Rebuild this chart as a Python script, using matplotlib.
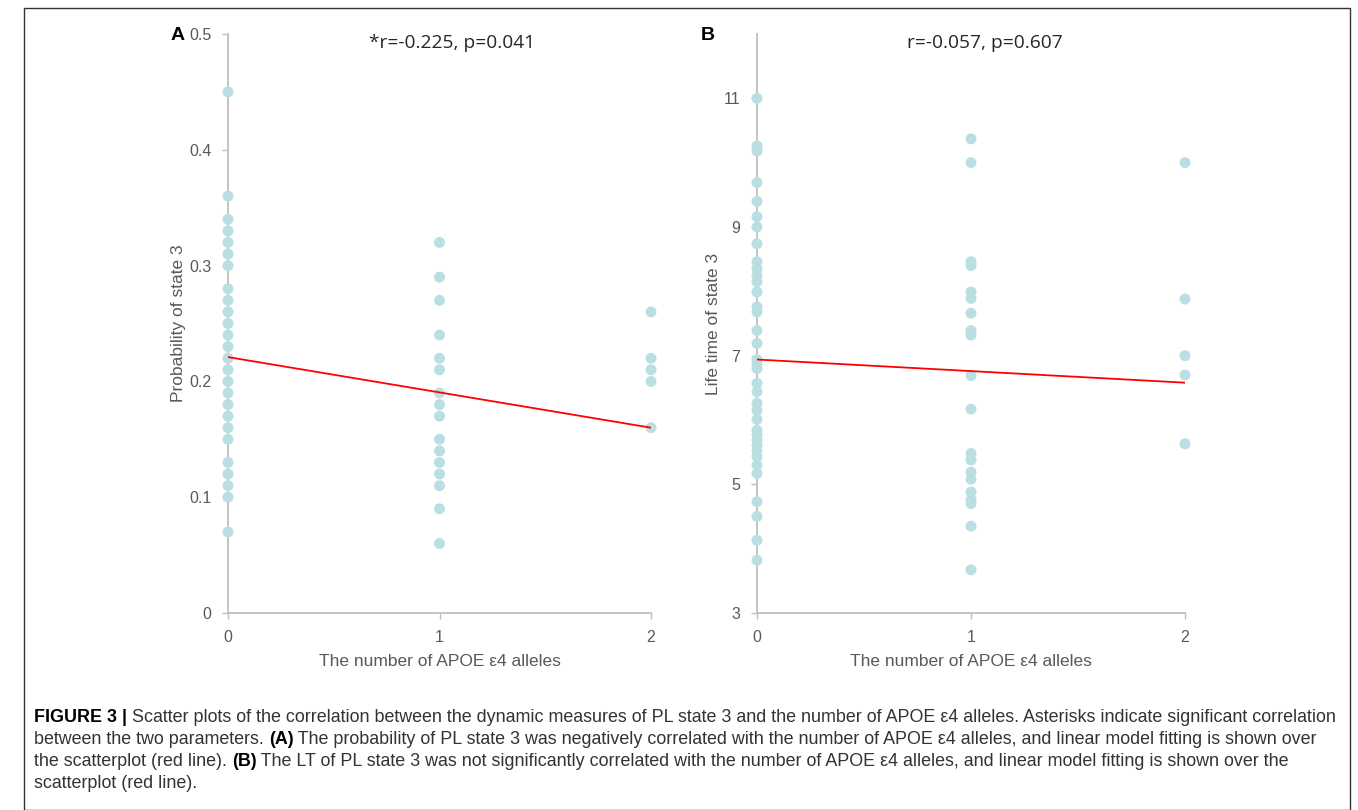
import numpy as np
import matplotlib.pyplot as plt
from matplotlib.patches import Rectangle

# ---- data ----
alleles = [0, 1, 2]

# panel A: probability of state 3
prob_0 = [0.45, 0.36, 0.34, 0.33, 0.32, 0.31, 0.30, 0.28, 0.27, 0.26, 0.25, 0.24,
          0.23, 0.22, 0.21, 0.20, 0.19, 0.18, 0.17, 0.16, 0.15, 0.13, 0.12, 0.11,
          0.10, 0.07]
prob_1 = [0.32, 0.29, 0.27, 0.24, 0.22, 0.21, 0.19, 0.18, 0.17, 0.15, 0.14, 0.13,
          0.12, 0.11, 0.09, 0.06]
prob_2 = [0.26, 0.22, 0.21, 0.20, 0.16]
fit_a = (0.221, -0.0305)  # intercept, slope

# panel B: life time of state 3
lt_0 = [11.0, 10.26, 10.18, 9.69, 9.40, 9.16, 9.0, 8.74, 8.46, 8.35, 8.25, 8.15,
        7.99, 7.76, 7.68, 7.39, 7.19, 6.94, 6.88, 6.80, 6.57, 6.44, 6.26, 6.15,
        6.01, 5.84, 5.77, 5.69, 5.61, 5.53, 5.43, 5.30, 5.17, 4.73, 4.50, 4.13,
        3.82]
lt_1 = [10.37, 10.0, 8.46, 8.40, 7.99, 7.89, 7.66, 7.39, 7.32, 6.69, 6.17, 5.48,
        5.38, 5.19, 5.08, 4.88, 4.76, 4.70, 4.35, 3.67]
lt_2 = [10.0, 7.88, 7.0, 6.70, 5.63]
fit_b = (6.94, -0.18)

title_a = "*r=-0.225, p=0.041"
title_b = "r=-0.057, p=0.607"
xlabel = "The number of APOE \u03b54 alleles"

caption = [
    [("FIGURE 3 |", "bold"), (" Scatter plots of the correlation between the dynamic measures of PL state 3 "
     "and the number of APOE \u03b54 alleles. Asterisks indicate significant correlation", "normal")],
    [("between the two parameters. ", "normal"), ("(A)", "bold"),
     (" The probability of PL state 3 was negatively correlated with the number of APOE \u03b54 alleles, "
      "and linear model fitting is shown over", "normal")],
    [("the scatterplot (red line). ", "normal"), ("(B)", "bold"),
     (" The LT of PL state 3 was not significantly correlated with the number of APOE \u03b54 alleles, "
      "and linear model fitting is shown over the", "normal")],
    [("scatterplot (red line).", "normal")],
]

DOT = "#b9dfe2"
GRID = "#bfbfbf"
TXT = "#595959"

plt.rcParams['font.family'] = ['Liberation Sans', 'DejaVu Sans']

fig = plt.figure(figsize=(13.58, 8.10), dpi=100)
W, H = 1358, 810


def px_axes(x0, x1, y_top, y_bot):
    return fig.add_axes([x0 / W, 1 - y_bot / H, (x1 - x0) / W, (y_bot - y_top) / H])


def style(ax):
    for s in ("top", "right"):
        ax.spines[s].set_visible(False)
    for s in ("left", "bottom"):
        ax.spines[s].set_color(GRID)
        ax.spines[s].set_linewidth(1.3)
    ax.tick_params(axis="both", colors=GRID, labelcolor=TXT, labelsize=11.5,
                   length=4, width=1.0)
    ax.tick_params(axis="y", pad=8)
    ax.tick_params(axis="x", pad=8)
    ax.set_xlim(0, 2)
    ax.set_xticks(alleles)
    ax.set_xlabel(xlabel, fontsize=12.5, color=TXT, labelpad=7)


def scatter_cols(ax, cols):
    for x, vals in zip(alleles, cols):
        ax.scatter(np.full(len(vals), x), vals, s=62, color=DOT, edgecolors="none",
                   zorder=3, clip_on=False)


title_font = ["Open Sans", "DejaVu Sans"]
xs = np.array([alleles[0], alleles[-1]])

# panel A
ax_a = px_axes(228, 651, 34, 613)
style(ax_a)
scatter_cols(ax_a, [prob_0, prob_1, prob_2])
ax_a.plot(xs, fit_a[0] + fit_a[1] * xs, color="#ff0000", lw=1.3, zorder=4)
ax_a.set_ylim(0, 0.5)
ax_a.set_yticks([0, 0.1, 0.2, 0.3, 0.4, 0.5])
ax_a.set_yticklabels(["0", "0.1", "0.2", "0.3", "0.4", "0.5"])
ax_a.set_ylabel("Probability of state 3", fontsize=12.5, color=TXT, labelpad=2)
fig.text(452 / W, 1 - 43 / H, title_a, fontsize=13.8, family=title_font, color="#262626",
         ha="center", va="center")
fig.text(178 / W, 1 - 36 / H, "A", fontsize=14, fontweight="bold", ha="center", va="center")

# panel B
ax_b = px_axes(757, 1185, 34, 613)
style(ax_b)
scatter_cols(ax_b, [lt_0, lt_1, lt_2])
ax_b.plot(xs, fit_b[0] + fit_b[1] * xs, color="#ff0000", lw=1.3, zorder=4)
ax_b.set_ylim(3, 12)
ax_b.set_yticks([3, 5, 7, 9, 11])
ax_b.set_ylabel("Life time of state 3", fontsize=12.5, color=TXT, labelpad=2)
fig.text(985 / W, 1 - 43 / H, title_b, fontsize=13.8, family=title_font, color="#262626",
         ha="center", va="center")
fig.text(708 / W, 1 - 36 / H, "B", fontsize=14, fontweight="bold", ha="center", va="center")

# frame round the figure
fig.patches.append(Rectangle((24 / W, 0), (1350 - 24) / W, 1 - 8 / H, transform=fig.transFigure,
                             fill=False, edgecolor="#333333", lw=1.0))

# caption, bold pieces chained after the normal ones
cap_size = 12.85
line_y = [717, 739, 762, 784]
for parts, yy in zip(caption, line_y):
    last = None
    for txt, wt in parts:
        col = "#000000" if wt == "bold" else "#333333"
        if last is None:
            last = fig.text(34 / W, 1 - yy / H, txt, fontsize=cap_size, fontweight=wt,
                            color=col, ha="left", va="center")
        else:
            last = ax_a.annotate(txt, xy=(1, 0), xycoords=last, fontsize=cap_size, fontweight=wt,
                                 color=col, ha="left", va="bottom", annotation_clip=False)

fig.savefig("out.png", dpi=100)
